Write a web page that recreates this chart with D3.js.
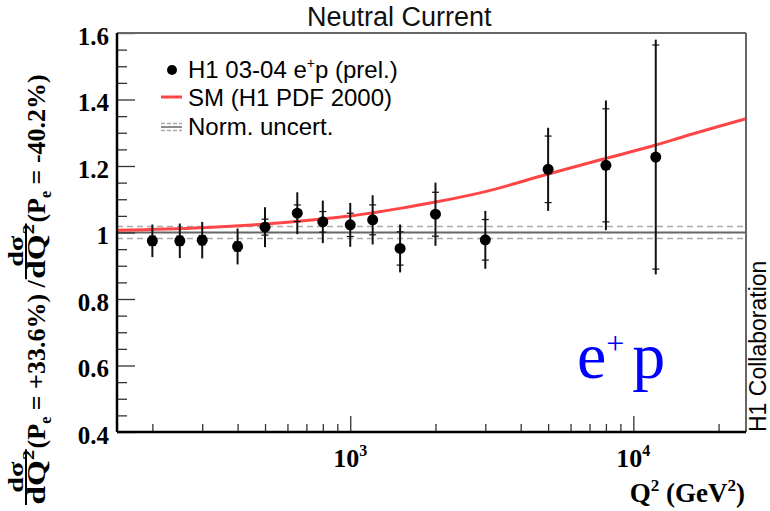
<!DOCTYPE html>
<html>
<head>
<meta charset="utf-8">
<script src="https://cdn.jsdelivr.net/npm/d3@7"></script>
<style>
body { margin: 0; background: #fff; }
svg { display: block; }
</style>
</head>
<body>
<script>
//measured points, H1 03-04 e+p (prel.)
var q2 = [200, 250, 300, 400, 500, 650, 800, 1000, 1200, 1500, 2000, 3000, 5000, 8000, 12000];
var ratio = [0.975, 0.975, 0.977, 0.958, 1.016, 1.058, 1.032, 1.023, 1.038, 0.952, 1.055, 0.978, 1.19, 1.202, 1.227];
var errTot = [0.049, 0.052, 0.055, 0.054, 0.06, 0.063, 0.064, 0.066, 0.074, 0.072, 0.095, 0.087, 0.125, 0.195, 0.353];
var errStat = [0.014, 0.014, 0.014, 0.014, 0.024, 0.025, 0.031, 0.035, 0.045, 0.05, 0.066, 0.061, 0.1, 0.17, 0.337];

//SM expectation (H1 PDF 2000)
var smQ2 = [150, 300, 500, 700, 1000, 1500, 2000, 3000, 5000, 8000, 12000, 15000, 25000];
var smRatio = [1.007, 1.0145, 1.0255, 1.036, 1.0495, 1.0725, 1.0915, 1.123, 1.176, 1.223, 1.263, 1.288, 1.342];

//normalisation uncertainty band
var normUnc = 0.018;

//axis ticks
var yMajor = [0.4, 0.6, 0.8, 1, 1.2, 1.4, 1.6];
var xMajor = [1000, 10000];
var xLabels = ["10", "10"];
var xExp = ["3", "4"];
var xMinor = [200, 300, 400, 500, 600, 700, 800, 900, 2000, 3000, 4000, 5000, 6000, 7000, 8000, 9000, 20000];

var legendLabels = ["H1 03-04 e", "SM (H1 PDF 2000)", "Norm. uncert."];

window.onload = setChart();

function setChart() {
    var width = 770,
        height = 511;
    var left = 117, right = 746, top = 33, bottom = 432;

    var svg = d3.select("body")
        .append("svg")
        .attr("width", width)
        .attr("height", height);

    var x = d3.scaleLog().domain([150, 25000]).range([left, right]);
    var y = d3.scaleLinear().domain([0.4, 1.6]).range([bottom, top]);

    //reference line at 1 and norm. uncertainty
    svg.append("line")
        .attr("x1", left).attr("x2", right)
        .attr("y1", y(1)).attr("y2", y(1))
        .attr("stroke", "#666").attr("stroke-width", 2);
    [1 + normUnc, 1 - normUnc].forEach(function (v) {
        svg.append("line")
            .attr("x1", left).attr("x2", right)
            .attr("y1", y(v)).attr("y2", y(v))
            .attr("stroke", "#aaa").attr("stroke-width", 1.5)
            .attr("stroke-dasharray", "6,4");
    });

    //SM curve
    var line = d3.line()
        .x(function (d, i) { return x(smQ2[i]); })
        .y(function (d) { return y(d); })
        .curve(d3.curveMonotoneX);
    svg.append("path")
        .datum(smRatio)
        .attr("d", line)
        .attr("fill", "none")
        .attr("stroke", "#ff4646")
        .attr("stroke-width", 3);

    //error bars
    var pts = svg.append("g");
    q2.forEach(function (q, i) {
        var cx = x(q);
        pts.append("line")
            .attr("x1", cx).attr("x2", cx)
            .attr("y1", y(ratio[i] + errTot[i])).attr("y2", y(ratio[i] - errTot[i]))
            .attr("stroke", "#111").attr("stroke-width", 2);
        [1, -1].forEach(function (s) {
            var yy = y(ratio[i] + s * errStat[i]);
            pts.append("line")
                .attr("x1", cx - 3.5).attr("x2", cx + 3.5)
                .attr("y1", yy).attr("y2", yy)
                .attr("stroke", "#111").attr("stroke-width", 1.2);
        });
        pts.append("circle")
            .attr("cx", cx).attr("cy", y(ratio[i]))
            .attr("r", 5.5)
            .attr("fill", "#000");
    });

    //axes ticks
    var yAxis = svg.append("g")
        .attr("transform", "translate(" + left + ",0)")
        .call(d3.axisLeft(y).tickValues(yMajor).tickSize(-18).tickFormat(""));
    var yMinorTicks = d3.range(0.45, 1.6, 0.05).filter(function (v) {
        return Math.abs(v * 5 - Math.round(v * 5)) > 0.01;
    });
    var yAxis2 = svg.append("g")
        .attr("transform", "translate(" + left + ",0)")
        .call(d3.axisLeft(y).tickValues(yMinorTicks).tickSize(-10).tickFormat(""));
    var xAxis = svg.append("g")
        .attr("transform", "translate(0," + bottom + ")")
        .call(d3.axisBottom(x).tickValues(xMajor).tickSize(-16).tickFormat(""));
    var xAxis2 = svg.append("g")
        .attr("transform", "translate(0," + bottom + ")")
        .call(d3.axisBottom(x).tickValues(xMinor).tickSize(-8).tickFormat(""));
    [yAxis, yAxis2, xAxis, xAxis2].forEach(function (g) {
        g.select(".domain").remove();
        g.selectAll(".tick line").attr("stroke", "#333").attr("stroke-width", 1.3);
    });

    //frame
    svg.append("line").attr("x1", left).attr("x2", right).attr("y1", top).attr("y2", top)
        .attr("stroke", "#666").attr("stroke-width", 2);
    svg.append("line").attr("x1", right).attr("x2", right).attr("y1", top).attr("y2", bottom)
        .attr("stroke", "#666").attr("stroke-width", 2);
    svg.append("line").attr("x1", left).attr("x2", right).attr("y1", bottom).attr("y2", bottom)
        .attr("stroke", "#000").attr("stroke-width", 2.5);
    svg.append("line").attr("x1", left).attr("x2", left).attr("y1", top).attr("y2", bottom)
        .attr("stroke", "#000").attr("stroke-width", 2.5);

    //y tick labels
    svg.append("g").selectAll("text")
        .data(yMajor)
        .enter().append("text")
        .attr("x", 109)
        .attr("y", function (d) { return y(d) + 3; })
        .attr("text-anchor", "end")
        .attr("dominant-baseline", "central")
        .style("font-family", "Liberation Serif")
        .style("font-weight", "bold")
        .style("font-size", "25px")
        .text(function (d) { return d3.format("~g")(d); });

    //x tick labels
    xMajor.forEach(function (v, i) {
        var t = svg.append("text")
            .attr("x", x(v))
            .attr("y", 467)
            .attr("text-anchor", "middle")
            .style("font-family", "Liberation Serif")
            .style("font-weight", "bold")
            .style("font-size", "26px");
        t.append("tspan").text(xLabels[i]);
        t.append("tspan").attr("dy", -11).style("font-size", "16px").text(xExp[i]);
    });

    //x title
    var xt = svg.append("text")
        .attr("x", 745).attr("y", 502)
        .attr("text-anchor", "end")
        .style("font-family", "Liberation Serif")
        .style("font-weight", "bold")
        .style("font-size", "27px");
    xt.append("tspan").text("Q");
    xt.append("tspan").attr("dy", -11).style("font-size", "17px").text("2");
    xt.append("tspan").attr("dy", 11).text(" (GeV");
    xt.append("tspan").attr("dy", -11).style("font-size", "17px").text("2");
    xt.append("tspan").attr("dy", 11).text(")");

    //y title: two fractions, rotated
    var yl = svg.append("g")
        .attr("transform", "translate(1,506) rotate(-90)")
        .style("font-family", "Liberation Serif")
        .style("font-weight", "bold")
        .style("font-size", "26px");
    var cur = 0;
    var stretch = 1.28;
    function frac() {
        var n = yl.append("text").attr("text-anchor", "middle")
            .style("font-size", "22px").text("d\u03c3");
        var d = yl.append("text").attr("text-anchor", "middle")
            .style("font-size", "26px");
        d.append("tspan").text("dQ");
        d.append("tspan").attr("dy", -11).style("font-size", "16px").text("2");
        var w = Math.max(n.node().getComputedTextLength() * stretch,
            d.node().getComputedTextLength() * stretch) + 3;
        n.attr("transform", "translate(" + (cur + w / 2) + ",22) scale(" + stretch + ",1)");
        d.attr("transform", "translate(" + (cur + w / 2) + ",44) scale(" + stretch + ",1)");
        yl.append("line")
            .attr("x1", cur + 1).attr("x2", cur + w - 1)
            .attr("y1", 25).attr("y2", 25)
            .attr("stroke", "#000").attr("stroke-width", 2);
        cur += w;
    }
    function pol(s) {
        var t = yl.append("text").attr("x", cur).attr("y", 44);
        t.append("tspan").text("(P");
        t.append("tspan").attr("dy", 6).style("font-size", "16px").text("e");
        t.append("tspan").attr("dy", -6).text(s);
        cur += t.node().getComputedTextLength();
    }
    frac();
    pol(" = +33.6%) / ");
    frac();
    pol(" = -40.2%)");

    //title
    svg.append("text")
        .attr("x", 307).attr("y", 26)
        .style("font-family", "Liberation Sans")
        .style("font-size", "27px")
        .attr("fill", "#111")
        .text("Neutral Current");

    //legend
    var lg = svg.append("g")
        .style("font-family", "Liberation Sans")
        .style("font-size", "24px");
    lg.append("circle").attr("cx", 172).attr("cy", 70).attr("r", 5).attr("fill", "#000");
    var l1 = lg.append("text").attr("x", 188).attr("y", 78);
    l1.append("tspan").text(legendLabels[0]);
    l1.append("tspan").attr("dy", -10).style("font-size", "14px").text("+");
    l1.append("tspan").attr("dy", 10).text("p (prel.)");
    lg.append("line").attr("x1", 161).attr("x2", 182).attr("y1", 97).attr("y2", 97)
        .attr("stroke", "#ff4646").attr("stroke-width", 3);
    lg.append("text").attr("x", 188).attr("y", 106).text(legendLabels[1]);
    lg.append("line").attr("x1", 161).attr("x2", 182).attr("y1", 127).attr("y2", 127)
        .attr("stroke", "#666").attr("stroke-width", 1.5);
    [123.5, 130.5].forEach(function (yy) {
        lg.append("line").attr("x1", 161).attr("x2", 182).attr("y1", yy).attr("y2", yy)
            .attr("stroke", "#aaa").attr("stroke-width", 1.3).attr("stroke-dasharray", "4,2");
    });
    lg.append("text").attr("x", 188).attr("y", 135).text(legendLabels[2]);

    //e+p tag
    var ep = svg.append("text")
        .attr("x", 577).attr("y", 378)
        .attr("fill", "#0000ff")
        .style("font-family", "Liberation Serif")
        .style("font-size", "66px");
    ep.append("tspan").text("e");
    ep.append("tspan").attr("dy", -24).style("font-size", "32px").text("+");
    ep.append("tspan").attr("dy", 24).attr("dx", 8).text("p");

    //collaboration label
    svg.append("text")
        .attr("transform", "translate(766,432) rotate(-90)")
        .style("font-family", "Liberation Sans")
        .style("font-size", "23px")
        .text("H1 Collaboration");
}
</script>
</body>
</html>
